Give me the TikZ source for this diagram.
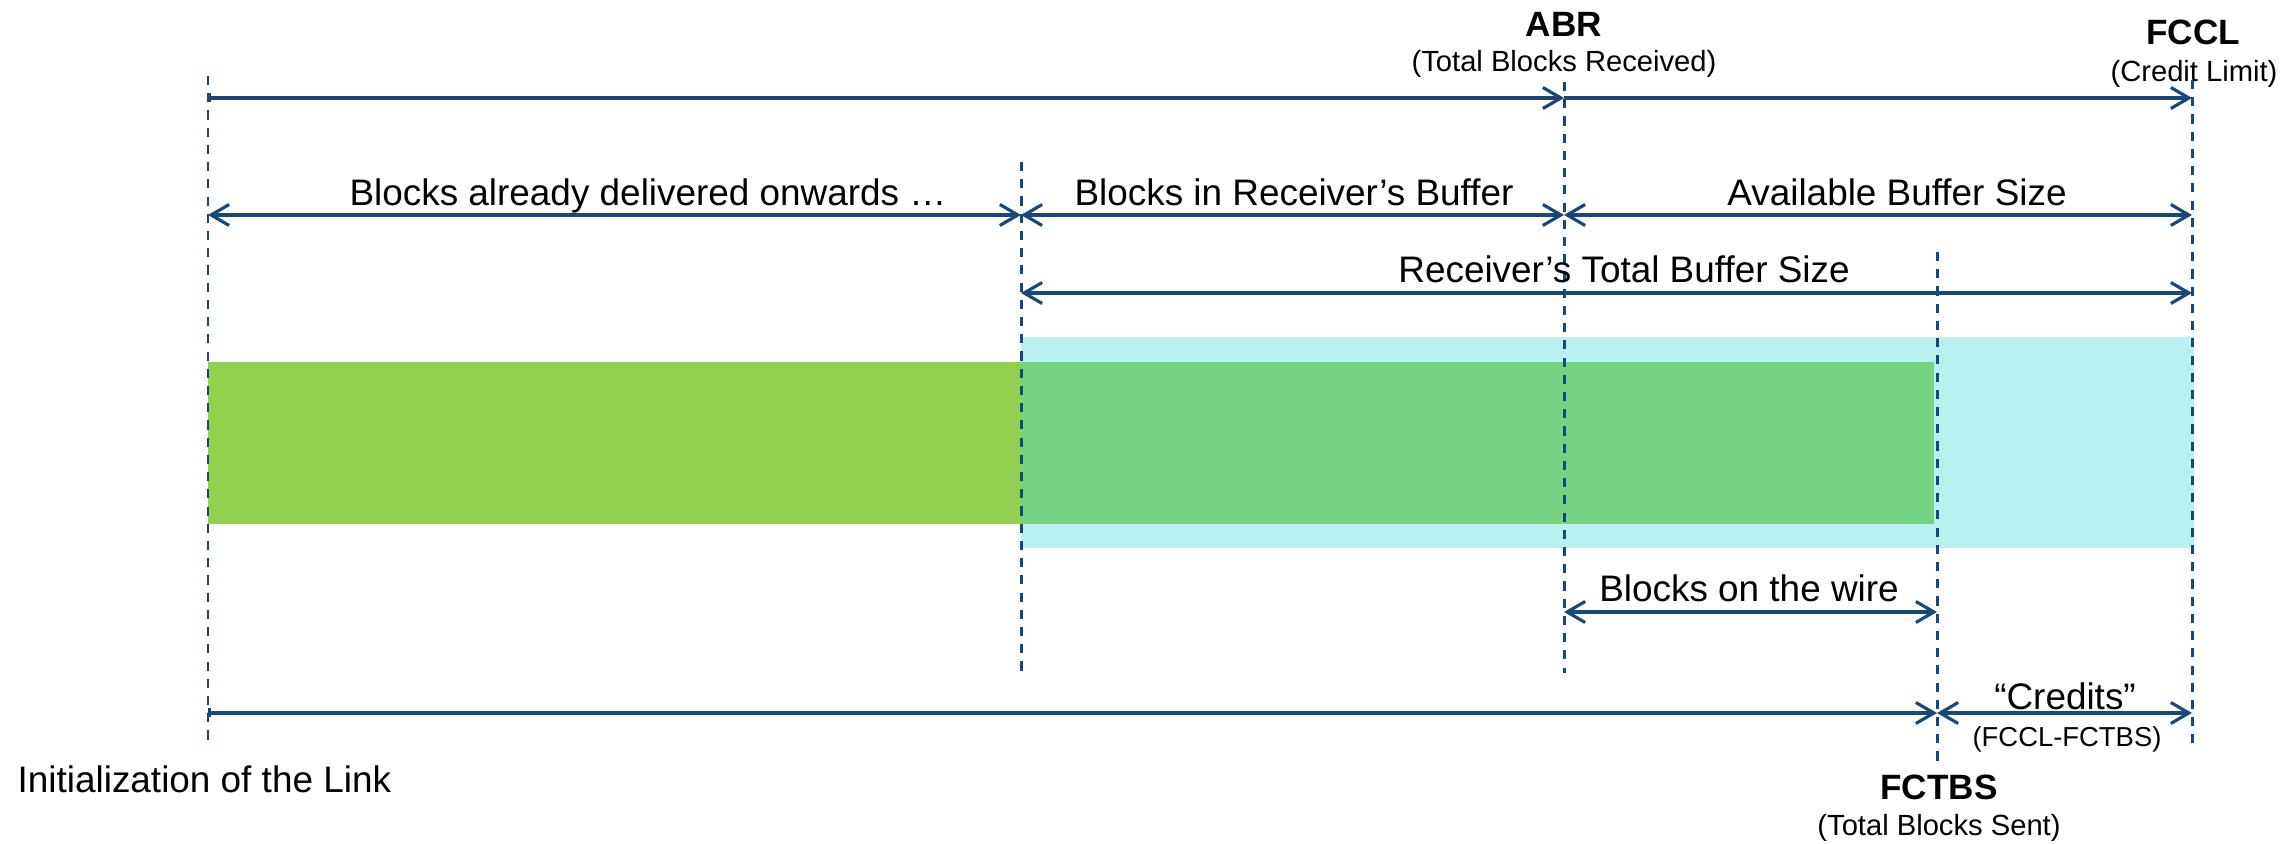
\documentclass[tikz,border=0pt]{standalone}
\usepackage{fontspec}
\setmainfont{Liberation Sans}
\usetikzlibrary{arrows.meta}

\definecolor{linkblue}{RGB}{23,72,120}
\definecolor{deliv}{RGB}{146,208,80}
\definecolor{inbuf}{RGB}{117,211,132}
\definecolor{freebuf}{RGB}{185,241,241}

\tikzset{
  marker/.style={linkblue, line width=0.85pt, dash pattern=on 2.6pt off 2.3pt},
  span/.style={linkblue, line width=0.9pt,
    {Straight Barb[length=1.8mm,width=2.1mm]}-{Straight Barb[length=1.8mm,width=2.1mm]}},
  fromstart/.style={linkblue, line width=0.9pt,
    {Bar[width=0.9mm]}-{Straight Barb[length=1.8mm,width=2.1mm]}},
  onward/.style={linkblue, line width=0.9pt, -{Straight Barb[length=1.8mm,width=2.1mm]}},
  lbl/.style={inner sep=0pt, anchor=base, font=\fontsize{10.5}{12}\selectfont},
  note/.style={inner sep=0pt, anchor=base, font=\fontsize{8.3}{10}\selectfont},
  tag/.style={inner sep=0pt, anchor=base, font=\bfseries\fontsize{10}{12}\selectfont}
}

\begin{document}
\begin{tikzpicture}[yscale=-1]
  \useasboundingbox (0,0) rectangle (22.83,8.44);

  % buffer and block bars
  \fill[freebuf] (10.21,3.37) rectangle (21.94,5.48);
  \fill[deliv] (2.08,3.62) rectangle (10.21,5.24);
  \fill[inbuf] (10.21,3.62) rectangle (19.34,5.24);

  % counter positions and row heights
  \coordinate (init) at (2.08,0);
  \coordinate (dlv) at (10.21,0);
  \coordinate (abr) at (15.64,0);
  \coordinate (sent) at (19.37,0);
  \coordinate (lim) at (21.92,0);
  \coordinate (toprow) at (0,0.98);
  \coordinate (partrow) at (0,2.15);
  \coordinate (totalrow) at (0,2.93);
  \coordinate (wirerow) at (0,6.12);
  \coordinate (sentrow) at (0,7.13);

  % dashed markers
  \foreach \p/\a/\b in {init/0.76/7.40, dlv/1.62/6.73, abr/0.82/6.73, sent/2.52/7.62, lim/0.80/7.43} {
    \draw[marker] (\p |- 0,\a) -- (\p |- 0,\b);
  }

  % spans
  \draw[fromstart] (init |- toprow) -- (abr |- toprow);
  \draw[onward] (abr |- toprow) -- (lim |- toprow);
  \draw[span] (dlv |- partrow) -- (init |- partrow);
  \draw[span] (dlv |- partrow) -- (abr |- partrow);
  \draw[span] (abr |- partrow) -- (lim |- partrow);
  \draw[span] (dlv |- totalrow) -- (lim |- totalrow);
  \draw[span] (abr |- wirerow) -- (sent |- wirerow);
  \draw[fromstart] (init |- sentrow) -- (sent |- sentrow);
  \draw[span] (sent |- sentrow) -- (lim |- sentrow);

  % labels
  \node[tag] (abrtag) at (15.64,0.37) {ABR};
  \node[note] (abrnote) at (15.64,0.72) {(Total Blocks Received)};
  \node[tag] (limtag) at (21.93,0.45) {FCCL};
  \node[note] (limnote) at (21.94,0.82) {(Credit Limit)};
  \node[lbl] (dlvlbl) at (6.48,2.06) {Blocks already delivered onwards …};
  \node[lbl] (buflbl) at (12.94,2.06) {Blocks in Receiver’s Buffer};
  \node[lbl] (freelbl) at (18.97,2.06) {Available Buffer Size};
  \node[lbl] (totlbl) at (16.24,2.83) {Receiver’s Total Buffer Size};
  \node[lbl] (wirelbl) at (17.49,6.02) {Blocks on the wire};
  \node[lbl] (credlbl) at (20.65,7.10) {“Credits”};
  \node[note, font=\fontsize{7.8}{9}\selectfont] (crednote) at (20.67,7.47) {(FCCL-FCTBS)};
  \node[lbl, anchor=base west] (initlbl) at (0.17,7.93) {Initialization of the Link};
  \node[tag] (senttag) at (19.39,8.00) {FCTBS};
  \node[note] (sentnote) at (19.39,8.36) {(Total Blocks Sent)};
\end{tikzpicture}
\end{document}
